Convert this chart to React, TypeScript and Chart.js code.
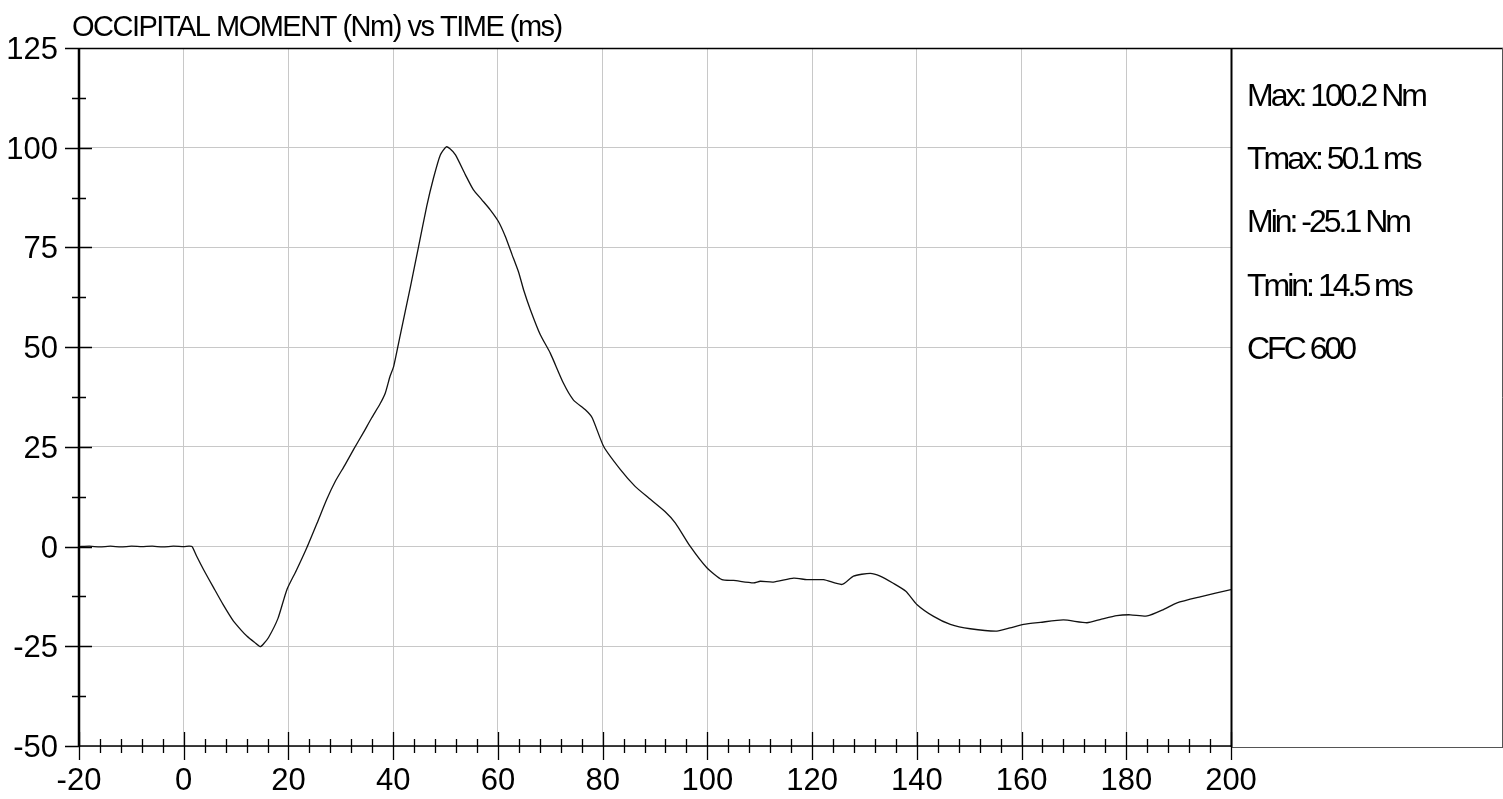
import React, { useEffect, useRef } from "react";
import { Chart, registerables } from "chart.js";

Chart.register(...registerables);

const chartTitle = "OCCIPITAL MOMENT (Nm) vs TIME (ms)";

const timeMs = [
  -20, -18, -16, -14, -12, -10, -8, -6, -4, -2,
  0, 1, 1.6, 2.5, 3.8, 5.7, 7.5, 9.5, 11, 12.1,
  13.5, 14.6, 15.3, 16.2, 18, 19.7, 21.5, 23.5, 25.5, 27.3,
  29, 30.8, 32.5, 34.2, 35.9, 37.5, 38.5, 39.4, 40.1, 41.3,
  43.3, 44.8, 46.4, 47.7, 49.0, 50.1, 50.8, 51.9, 53.8, 55.3,
  56.9, 58.5, 60.1, 61.4, 62.7, 64.0, 64.9, 66.2, 68.1, 70.0,
  72.5, 74.4, 76.7, 78.0, 80.2, 83.4, 86.2, 88.8, 91.9, 93.9,
  96.7, 99.9, 102.8, 105.0, 108.8, 110.1, 112.6, 116.5, 119.0, 122.2,
  125.7, 127.9, 131.1, 133.0, 135.5, 137.9, 140.0, 143.2, 146.4, 150.2,
  155.3, 157.8, 160.4, 163.6, 168.0, 172.5, 175.0, 178.2, 180.8, 184.0,
  187.1, 189.7, 194.1, 200,
];

const momentNm = [
  0, 0.1, -0.1, 0.1, -0.1, 0.1, 0, 0.1, -0.1, 0.1,
  0, 0.1, 0, -2.5, -5.8, -10.3, -14.5, -18.7, -21, -22.5,
  -24, -25.1, -24.3, -22.8, -18, -10.8, -6, -0.3, 6, 11.8,
  16.5, 20.5, 24.5, 28.3, 32.3, 35.8, 38.5, 42.7, 45.2, 52.7,
  65.2, 74.9, 85.3, 92.4, 98.2, 100.2, 99.8, 98.2, 93.2, 89.5,
  87, 84.5, 81.5, 77.8, 73.2, 68.6, 64.4, 59.4, 53.1, 48.5,
  41.0, 36.8, 34.3, 32.3, 25.1, 19.3, 15.1, 12.2, 8.8, 5.9,
  0.1, -5.3, -8.3, -8.5, -9.1, -8.7, -8.9, -7.9, -8.3, -8.3,
  -9.5, -7.4, -6.7, -7.4, -9.2, -11.2, -14.5, -17.5, -19.5, -20.6,
  -21.2, -20.4, -19.5, -19.0, -18.4, -19.1, -18.3, -17.3, -17.1, -17.4,
  -15.8, -14.1, -12.6, -10.8,
];

const xTickLabels = [-20, 0, 20, 40, 60, 80, 100, 120, 140, 160, 180, 200];
const yTickLabels = [125, 100, 75, 50, 25, 0, -25, -50];
const statsLines = [
  "Max: 100.2 Nm",
  "Tmax: 50.1 ms",
  "Min: -25.1 Nm",
  "Tmin: 14.5 ms",
  "CFC 600",
];

const X_MIN = -20;
const X_MAX = 200;
const X_MINOR = 4;
const Y_MIN = -50;
const Y_MAX = 125;
const Y_MINOR = 12.5;

const FONT = "'Liberation Sans', Arial, sans-serif";

const framePlugin = {
  id: "framePlugin",
  afterDraw(chart: any) {
    const ctx = chart.ctx as CanvasRenderingContext2D;
    const xs = chart.scales.x;
    const ys = chart.scales.y;
    const area = chart.chartArea;
    const W = chart.width;
    ctx.save();
    ctx.strokeStyle = "#000";
    ctx.fillStyle = "#000";

    // right panel frame
    ctx.lineWidth = 1.5;
    ctx.beginPath();
    ctx.moveTo(area.left, area.top + 0.5);
    ctx.lineTo(W, area.top + 0.5);
    ctx.stroke();
    ctx.lineWidth = 1;
    ctx.strokeStyle = "#555";
    ctx.beginPath();
    ctx.moveTo(area.right, area.bottom + 1.5);
    ctx.lineTo(W, area.bottom + 1.5);
    ctx.moveTo(W - 0.5, area.top);
    ctx.lineTo(W - 0.5, area.bottom + 1.5);
    ctx.stroke();
    ctx.strokeStyle = "#000";
    ctx.lineWidth = 2;
    ctx.beginPath();
    ctx.moveTo(area.right + 0.5, area.top);
    ctx.lineTo(area.right + 0.5, area.bottom + 1);
    ctx.stroke();

    // axes
    ctx.lineWidth = 2.5;
    ctx.beginPath();
    ctx.moveTo(area.left, area.top);
    ctx.lineTo(area.left, area.bottom + 1);
    ctx.stroke();
    ctx.lineWidth = 1.5;
    ctx.beginPath();
    ctx.moveTo(area.left, area.bottom);
    ctx.lineTo(area.right, area.bottom);
    ctx.stroke();

    // x ticks
    ctx.lineWidth = 1.3;
    ctx.beginPath();
    for (let v = X_MIN; v <= X_MAX + 1e-6; v += X_MINOR) {
      const px = Math.round(xs.getPixelForValue(v)) + 0.5;
      const major = Math.abs(v % 20) < 1e-6;
      const h = major ? 14 : 7;
      ctx.moveTo(px, area.bottom - h);
      ctx.lineTo(px, area.bottom + h);
    }
    // y ticks
    for (let v = Y_MIN; v <= Y_MAX + 1e-6; v += Y_MINOR) {
      const py = Math.round(ys.getPixelForValue(v)) + 0.5;
      const major = Math.abs(v % 25) < 1e-6;
      const l = major ? 14 : 7;
      const r = major ? (v === Y_MIN || v === Y_MAX ? 0 : 13) : 7;
      ctx.moveTo(area.left - l, py);
      ctx.lineTo(area.left + r, py);
    }
    ctx.stroke();

    // tick labels
    ctx.font = `31px ${FONT}`;
    ctx.textAlign = "right";
    ctx.textBaseline = "alphabetic";
    for (const v of yTickLabels) {
      const py = ys.getPixelForValue(v);
      ctx.fillText(String(v), area.left - 21, py + 11);
    }
    ctx.textAlign = "center";
    for (const v of xTickLabels) {
      const px = xs.getPixelForValue(v);
      ctx.fillText(String(v), px, area.bottom + 44);
    }

    // title
    (ctx as any).letterSpacing = "-1.5px";
    ctx.textAlign = "left";
    ctx.font = `29px ${FONT}`;
    ctx.fillText(chartTitle, 72, 36);

    // stats panel
    (ctx as any).letterSpacing = "-3px";
    ctx.font = `32px ${FONT}`;
    statsLines.forEach((s, i) => {
      ctx.fillText(s, area.right + 16, 106 + i * 63.2);
    });
    (ctx as any).letterSpacing = "0px";
    ctx.restore();
  },
};

export default function App() {
  const canvasRef = useRef<HTMLCanvasElement | null>(null);

  useEffect(() => {
    const canvas = canvasRef.current;
    if (!canvas) return;
    const points = timeMs.map((t, i) => ({ x: t, y: momentNm[i] }));
    const chart = new Chart(canvas, {
      type: "line",
      data: {
        datasets: [
          {
            data: points,
            borderColor: "#111",
            borderWidth: 1.3,
            pointRadius: 0,
            tension: 0.2,
            fill: false,
          },
        ],
      },
      options: {
        animation: false,
        responsive: true,
        maintainAspectRatio: false,
        parsing: false as any,
        layout: { padding: { left: 79, right: 272, top: 48, bottom: 53 } },
        plugins: {
          legend: { display: false },
          title: { display: false },
          tooltip: { enabled: false },
        },
        scales: {
          x: {
            type: "linear",
            min: X_MIN,
            max: X_MAX,
            ticks: { display: false, stepSize: 20 },
            grid: { color: "#c8c8c8", lineWidth: 1, drawTicks: false },
            border: { display: false },
            afterFit: (s: any) => {
              s.height = 0;
            },
          },
          y: {
            type: "linear",
            min: Y_MIN,
            max: Y_MAX,
            ticks: { display: false, stepSize: 25 },
            grid: { color: "#c8c8c8", lineWidth: 1, drawTicks: false },
            border: { display: false },
            afterFit: (s: any) => {
              s.width = 0;
            },
          },
        },
      },
      plugins: [framePlugin],
    });
    return () => chart.destroy();
  }, []);

  return (
    <div
      style={{
        position: "fixed",
        left: 0,
        top: 0,
        width: 1503,
        height: 799,
        background: "#fff",
      }}
    >
      <canvas ref={canvasRef} />
    </div>
  );
}
